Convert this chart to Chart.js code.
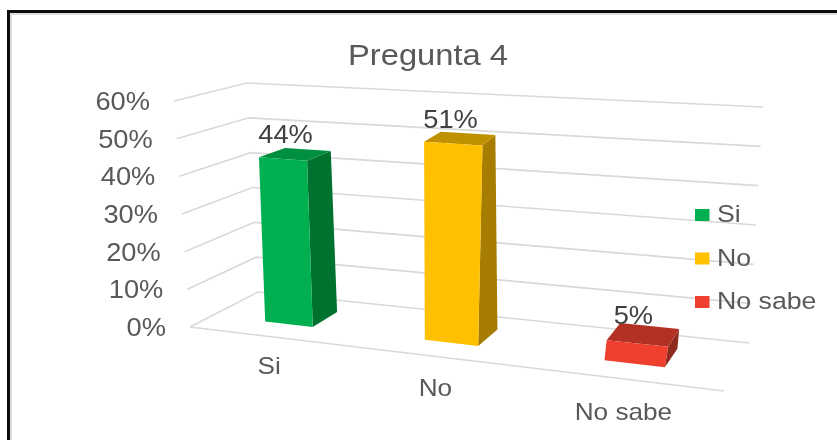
<!DOCTYPE html>
<html>
<head>
<meta charset="utf-8">
<title>Pregunta 4</title>
<script src="https://cdn.jsdelivr.net/npm/chart.js@4/dist/chart.umd.min.js"></script>
<style>
html, body { margin: 0; padding: 0; background: #fff; overflow: hidden; }
#wrap { position: relative; width: 837px; height: 440px; }
#chart { position: absolute; left: 0; top: 0; filter: blur(0.4px); }
#frame { position: absolute; left: 7px; top: 10px; right: 0; bottom: 0; border-left: 3px solid #0d0d0d; border-top: 3px solid #0d0d0d; }
#frame div { position: absolute; left: 0; top: 0; right: 0; bottom: 0; border-left: 2px solid #dcdcdc; border-top: 2px solid #dcdcdc; }
</style>
</head>
<body>
<div id="wrap">
	<canvas id="chart" width="837" height="440"></canvas>
	<div id="frame"><div></div></div>
</div>
<script>
var chartTitle = 'Pregunta 4';
var categories = ['Si', 'No', 'No sabe'];
var seriesValues = [44, 51, 5];
var tickLabels = ['0%', '10%', '20%', '30%', '40%', '50%', '60%'];

var frontColors = ['#00B050', '#FFC000', '#EE3F2F'];
var topColors = ['#008F41', '#BF9000', '#B23124'];
var sideColors = ['#00722F', '#A67D00', '#8F2A1E'];

var gridColor = '#d9d9d9';
var textColor = '#595959';
var labelColor = '#404040';
var fontFamily = '"Liberation Sans", Arial, sans-serif';
var stretch = 1.09;

// the box the chart sits in: front-left, front-right, back-right, back-left
var floorCorners = [[190, 327], [724, 391], [749, 343], [258, 292]];
var roofCorners = [[174, 101], [800, 139], [763, 107], [247, 83]];
var barDepth = [0.31, 0.71];
var barShift = 0.004;
var barLean = 5;

function squareToQuad(p){
	var dx1 = p[1][0] - p[2][0], dx2 = p[3][0] - p[2][0], sx = p[0][0] - p[1][0] + p[2][0] - p[3][0];
	var dy1 = p[1][1] - p[2][1], dy2 = p[3][1] - p[2][1], sy = p[0][1] - p[1][1] + p[2][1] - p[3][1];
	var den = dx1 * dy2 - dx2 * dy1;
	var g = (sx * dy2 - dx2 * sy) / den;
	var h = (dx1 * sy - sx * dy1) / den;
	return function(u, v){
		var a = p[1][0] - p[0][0] + g * p[1][0], b = p[3][0] - p[0][0] + h * p[3][0];
		var d = p[1][1] - p[0][1] + g * p[1][1], e = p[3][1] - p[0][1] + h * p[3][1];
		var q = g * u + h * v + 1;
		return [(a * u + b * v + p[0][0]) / q, (d * u + e * v + p[0][1]) / q];
	};
}
var floorMap = squareToQuad(floorCorners);
var roofMap = squareToQuad(roofCorners);

function project(u, v, w){
	var a = floorMap(u, v), b = roofMap(u, v);
	return [a[0] + (b[0] - a[0]) * w, a[1] + (b[1] - a[1]) * w];
}

// bars stand a little straighter than the walls
function barPoint(u, v, w){
	var p = project(u, v, w);
	return [p[0] + barLean * w, p[1]];
}

function poly(ctx, pts, color){
	ctx.beginPath();
	ctx.moveTo(pts[0][0], pts[0][1]);
	for(var i = 1; i < pts.length; i++){
		ctx.lineTo(pts[i][0], pts[i][1]);
	}
	ctx.closePath();
	ctx.fillStyle = color;
	ctx.fill();
}

function line(ctx, pts){
	ctx.beginPath();
	ctx.moveTo(pts[0][0], pts[0][1]);
	for(var i = 1; i < pts.length; i++){
		ctx.lineTo(pts[i][0], pts[i][1]);
	}
	ctx.stroke();
}

// the reference text is wider than the font, so it gets stretched
function text(ctx, str, x, y, size, color, align){
	ctx.save();
	ctx.translate(x, y + 1.5);
	ctx.scale(stretch, 1);
	ctx.font = size + 'px ' + fontFamily;
	ctx.fillStyle = color;
	ctx.textAlign = align;
	ctx.textBaseline = 'middle';
	ctx.fillText(str, 0, 0);
	ctx.restore();
}

var box3d = {
	id: 'box3d',
	beforeDatasetsDraw: function(chart){
		var ctx = chart.ctx, area = chart.chartArea;
		var xs = chart.scales.x, ys = chart.scales.y;
		var toU = function(px){ return (px - area.left) / (area.right - area.left); };
		var toW = function(px){ return (area.bottom - px) / (area.bottom - area.top); };

		text(ctx, chartTitle, 428, 55, 30, textColor, 'center');

		// walls and ticks
		ctx.strokeStyle = gridColor;
		ctx.lineWidth = 1.6;
		ys.ticks.forEach(function(tick, i){
			var w = toW(ys.getPixelForValue(tick.value));
			var a = project(0, 0, w);
			line(ctx, [a, project(0, 1, w), project(1, 1, w)]);
			text(ctx, tickLabels[i], a[0] - 24, a[1] + 0.5, 25, textColor, 'right');
		});
		line(ctx, [project(0, 0, 0), project(1, 0, 0)]);

		// category labels under the front edge
		categories.forEach(function(cat, i){
			var u = toU(xs.getPixelForValue(i));
			var p = project(u, 0, 0);
			text(ctx, cat, p[0] + 3, p[1] + 29 + 5 * u, 24, textColor, 'center');
		});

		// bars from the library's own bar elements
		chart.getDatasetMeta(0).data.forEach(function(bar, i){
			var u0 = toU(bar.x - bar.width / 2) + barShift, u1 = toU(bar.x + bar.width / 2) + barShift;
			var w1 = toW(bar.y), w0 = toW(bar.base);
			var v0 = barDepth[0], v1 = barDepth[1];
			poly(ctx, [barPoint(u1, v0, w0), barPoint(u1, v1, w0), barPoint(u1, v1, w1), barPoint(u1, v0, w1)], sideColors[i]);
			poly(ctx, [barPoint(u0, v0, w1), barPoint(u1, v0, w1), barPoint(u1, v1, w1), barPoint(u0, v1, w1)], topColors[i]);
			poly(ctx, [barPoint(u0, v0, w0), barPoint(u1, v0, w0), barPoint(u1, v0, w1), barPoint(u0, v0, w1)], frontColors[i]);
			var c = barPoint((u0 + u1) / 2, (v0 + v1) / 2, w1);
			text(ctx, seriesValues[i] + '%', c[0] - 10, c[1] - 19, 25, labelColor, 'center');
		});

		// legend
		categories.forEach(function(cat, i){
			var y = 215 + i * 43.5;
			ctx.fillStyle = frontColors[i];
			ctx.fillRect(695, y - 6, 14.5, 12);
			text(ctx, cat, 717, y - 1, 24.5, textColor, 'left');
		});

		return false;
	}
};

new Chart(document.getElementById('chart'), {
	type: 'bar',
	data: {
		labels: categories,
		datasets: [{
			label: chartTitle,
			data: seriesValues,
			backgroundColor: frontColors,
			barPercentage: 0.31,
			categoryPercentage: 1
		}]
	},
	options: {
		responsive: false,
		animation: false,
		layout: { padding: 0 },
		plugins: {
			legend: { display: false },
			title: { display: false },
			tooltip: { enabled: false }
		},
		scales: {
			x: {
				grid: { display: false },
				border: { display: false },
				ticks: { display: false }
			},
			y: {
				min: 0,
				max: 60,
				grid: { display: false },
				border: { display: false },
				ticks: { display: false, stepSize: 10 }
			}
		}
	},
	plugins: [box3d]
});
</script>
</body>
</html>
